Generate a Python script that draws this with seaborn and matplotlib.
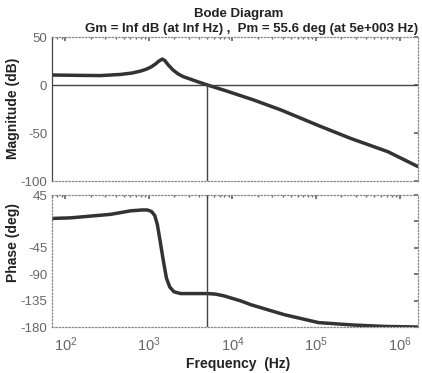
import numpy as np
import pandas as pd
import matplotlib
matplotlib.use("Agg")
import matplotlib.pyplot as plt
import seaborn as sns

# ---- data ----
mag_logf = [1.83, 2.20, 2.42, 2.66, 2.80, 2.90, 2.97, 3.03, 3.08, 3.12, 3.16, 3.19,
            3.23, 3.29, 3.35, 3.41, 3.50, 3.58, 3.70, 3.92, 4.25, 4.58, 5.05, 5.41,
            5.86, 6.22]
mag_db = [10.4, 10.0, 9.8, 11.0, 12.5, 14.5, 16.5, 19.0, 22.0, 25.0, 27.0, 25.5,
          21.0, 15.5, 11.5, 8.7, 6.0, 3.5, 0.0, -6.0, -15.5, -26.0, -43.0, -55.5,
          -69.5, -85.0]

ph_logf = [1.83, 2.06, 2.54, 2.78, 2.92, 2.98, 3.03, 3.07, 3.10, 3.13, 3.17, 3.21,
           3.25, 3.30, 3.38, 3.70, 3.80, 3.90, 4.10, 4.22, 4.62, 5.03, 5.43, 5.82,
           6.22]
ph_deg = [5.0, 6.0, 12.0, 18.0, 19.5, 19.5, 17.0, 10.0, -5.0, -30.0, -65.0, -97.0,
          -112.0, -120.0, -123.0, -123.0, -124.0, -127.0, -135.6, -142.0, -159.0,
          -172.5, -176.5, -179.0, -180.0]

mag_yticks = [50, 0, -50, -100]
ph_yticks = [45, 0, -45, -90, -135, -180]
ph_yticklabels = ["45", "", "-45", "-90", "-135", "-180"]
x_decades = [2, 3, 4, 5, 6]
pm_freq = 5000.0

title1 = "Bode Diagram"
title2 = "Gm = Inf dB (at Inf Hz) ,  Pm = 55.6 deg (at 5e+003 Hz)"

mag_df = pd.DataFrame({"f": np.power(10.0, mag_logf), "mag": mag_db})
ph_df = pd.DataFrame({"f": np.power(10.0, ph_logf), "ph": ph_deg})

sns.set_theme(style="white")
plt.rcParams["font.family"] = ["Liberation Sans", "DejaVu Sans"]

fig = plt.figure(figsize=(4.22, 3.73), dpi=100)
ax1 = fig.add_axes([52/422, 1-181/373, (418-52)/422, (181-37)/373])
ax2 = fig.add_axes([52/422, 1-327/373, (418-52)/422, (327-195)/373])

line_col = "#333333"
tick_col = "#666666"

for ax in (ax1, ax2):
    ax.set_xscale("log")
    ax.set_xlim(10**1.84, 10**6.22)
    for s in ax.spines.values():
        s.set_linestyle(":")
        s.set_color("#888888")
        s.set_linewidth(0.9)
    ax.tick_params(which="both", direction="in", top=True, right=True,
                   color=tick_col, labelcolor=tick_col, labelsize=9.5)
    ax.tick_params(which="major", length=3)
    ax.tick_params(which="minor", length=1.5)

ax1.spines["left"].set_linestyle("-")
ax1.spines["left"].set_color("#444444")

sns.lineplot(data=mag_df, x="f", y="mag", ax=ax1, color=line_col, lw=2.5, sort=False)
ax1.axhline(0, color="#444444", lw=1.0)
ax1.vlines(pm_freq, -100, 0, color="#444444", lw=1.0)
ax1.set_ylim(-100, 50)
ax1.set_yticks(mag_yticks)
ax1.set_yticklabels([str(v) for v in mag_yticks])
ax1.set_xticks([10.0**d for d in x_decades])
ax1.set_xticklabels([])
ax1.set_xlabel("")
ax1.set_ylabel("")

sns.lineplot(data=ph_df, x="f", y="ph", ax=ax2, color=line_col, lw=2.5, sort=False)
ax2.axvline(pm_freq, color="#444444", lw=1.0)
ax2.set_ylim(-180, 45)
ax2.set_yticks(ph_yticks)
ax2.set_yticklabels(ph_yticklabels)
ax2.set_xticks([10.0**d for d in x_decades])
ax2.set_xticklabels([r"$\mathregular{10^{%d}}$" % d for d in x_decades])
ax2.tick_params(axis="x", pad=6, labelsize=10.5)
ax2.set_xlabel("")
ax2.set_ylabel("")

fig.text(239/422, 1-14/373, title1, ha="center", va="center",
         fontsize=9.5, fontweight="bold", color="#222222")
fig.text(252/422, 1-29/373, title2, ha="center", va="center",
         fontsize=9.5, fontweight="bold", color="#222222")
fig.text(238/422, 1-364/373, "Frequency  (Hz)", ha="center", va="center",
         fontsize=10, fontweight="bold", color="#222222")
fig.text(13/422, 1-108/373, "Magnitude (dB)", ha="center", va="center",
         rotation=90, fontsize=10, fontweight="bold", color="#222222")
fig.text(13/422, 1-243/373, "Phase (deg)", ha="center", va="center",
         rotation=90, fontsize=10, fontweight="bold", color="#222222")

fig.savefig("out.png", dpi=100)
